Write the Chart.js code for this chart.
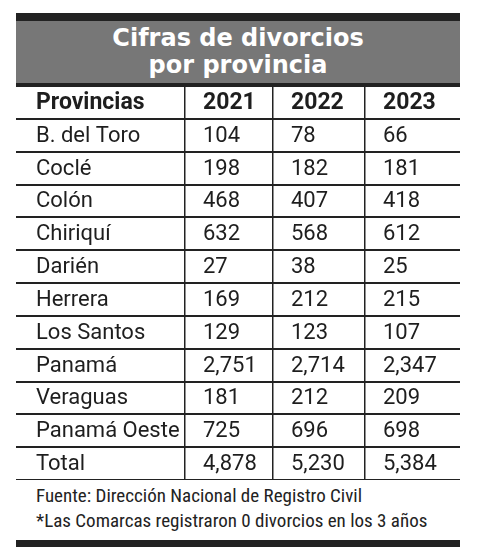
<!DOCTYPE html>
<html><head><meta charset="utf-8">
<script src="https://cdn.jsdelivr.net/npm/chart.js@4"></script>
<style>
body{margin:0;background:#fff;font-family:'Liberation Sans Narrow','Roboto Condensed',Roboto,sans-serif;}
#wrap{position:absolute;left:16px;top:13px;width:444px;}
#title{background:#777;border-top:8px solid #222;border-bottom:3px solid #222;height:62px;color:#fff;
 font:bold 24px 'DejaVu Sans',sans-serif;text-align:center;line-height:27px;padding-top:4px;box-sizing:content-box;height:58px;}
#box{position:relative;width:444px;height:394px;}
#foot{color:#222;font-size:19px;line-height:25px;padding-left:20px;margin-top:3px;}
#bar{height:7px;background:#222;margin-top:7px;}
</style></head><body>
<div id="wrap">
 <div id="title">Cifras de divorcios<br>por provincia</div>
 <div id="box"><canvas id="c"></canvas></div>
 <div id="foot">Fuente: Dirección Nacional de Registro Civil<br>*Las Comarcas registraron 0 divorcios en los 3 años</div>
 <div id="bar"></div>
</div>
<script>
const headers = ['Provincias', '2021', '2022', '2023'];
const provinces = ['B. del Toro', 'Coclé', 'Colón', 'Chiriquí', 'Darién', 'Herrera', 'Los Santos', 'Panamá', 'Veraguas', 'Panamá Oeste', 'Total'];
const v2021 = ['104', '198', '468', '632', '27', '169', '129', '2,751', '181', '725', '4,878'];
const v2022 = ['78', '182', '407', '568', '38', '212', '123', '2,714', '212', '696', '5,230'];
const v2023 = ['66', '181', '418', '612', '25', '215', '107', '2,347', '209', '698', '5,384'];
const colEdges = [0, 169, 257, 349, 444];

const rows = ['header'].concat(provinces);
const cols = [provinces, v2021, v2022, v2023];

const tablePlugin = {
  id: 'tableText',
  afterDraw(chart) {
    const ctx = chart.ctx, xs = chart.scales.x, ys = chart.scales.y;
    ctx.save();
    ctx.fillStyle = '#1e1e1e';
    ctx.textBaseline = 'middle';
    rows.forEach((r, ri) => {
      const y = ys.getPixelForValue(ri) + 1;
      for (let c = 0; c < 4; c++) {
        const pad = c === 0 ? 20 : 18;
        const x = xs.getPixelForValue(colEdges[c]) + pad;
        if (ri === 0) {
          ctx.font = "bold 23px 'Liberation Sans Narrow', Roboto, sans-serif";
          ctx.fillText(headers[c], x, y);
        } else {
          ctx.font = "22px 'Liberation Sans Narrow', Roboto, sans-serif";
          ctx.fillText(cols[c][ri - 1], x, y);
        }
      }
    });
    ctx.restore();
  }
};

new Chart(document.getElementById('c'), {
  type: 'scatter',
  data: { datasets: [{ data: [] }] },
  plugins: [tablePlugin],
  options: {
    responsive: true, maintainAspectRatio: false, animation: false,
    layout: { padding: 0 },
    plugins: { legend: { display: false }, tooltip: { enabled: false } },
    scales: {
      x: {
        type: 'linear', min: 0, max: 444,
        afterBuildTicks: (s) => { s.ticks = colEdges.slice(1, 4).map(v => ({ value: v })); },
        grid: { color: '#222', lineWidth: 1.5, drawTicks: false },
        ticks: { display: false }, border: { display: false }
      },
      y: {
        type: 'category', labels: rows, offset: true,
        grid: { offset: true, color: '#222', lineWidth: 2, drawTicks: false },
        ticks: { display: false }, border: { display: false }
      }
    }
  }
});
</script>
</body></html>
